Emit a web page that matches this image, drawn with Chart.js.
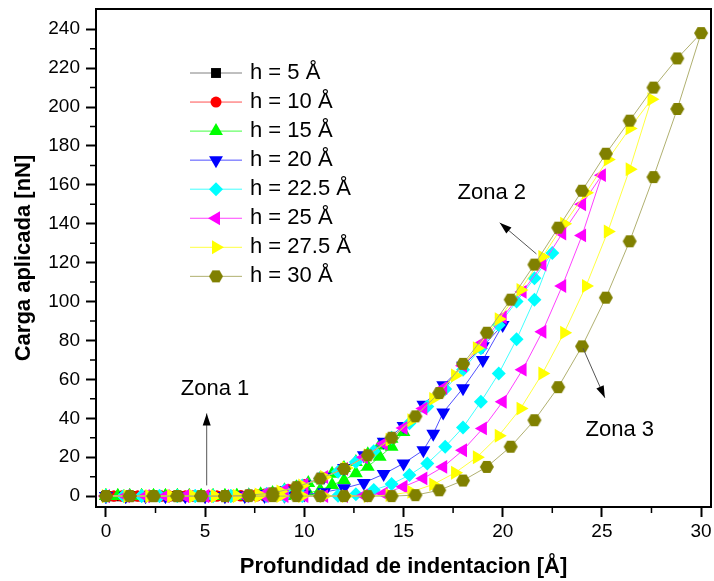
<!DOCTYPE html>
<html>
<head>
<meta charset="utf-8">
<script src="https://cdn.jsdelivr.net/npm/chart.js@4.4.1/dist/chart.umd.min.js"></script>
<style>
  html, body { margin: 0; padding: 0; background: #fff; }
  #wrap { width: 714px; height: 581px; }
</style>
</head>
<body>
<div id="wrap"><canvas id="indentChart"></canvas></div>
<script>
// indentation depth [Å] along the path (loading, then unloading) and applied load [nN]
const labels = ['h = 5 Å', 'h = 10 Å', 'h = 15 Å', 'h = 20 Å', 'h = 22.5 Å', 'h = 25 Å', 'h = 27.5 Å', 'h = 30 Å'];

const depth5 = [0,0.2,0.4,0.6,0.8,1,1.2,1.4,1.6,1.8,2,2.2,2.4,2.6,2.8,3,3.2,3.4,3.6,3.8,4,4.2,4.4,4.6,4.8,5,
  4.8,4.6,4.4,4.2,4,3.8,3.6,3.4,3.2,3,2.8,2.6,2.4,2.2,2,1.8,1.6,1.4,1.2,1,0.8,0.6,0.4,0.2,0];
const load5 = [0,0,0,0,0,0,0,0,0,0,0,0,0,0,0,0,0,0,0,0,0,0,0,0,0,0,
  0,0,0,0,0,0,0,0,0,0,0,0,0,0,0,0,0,0,0,0,0,0,0,0,0];

const depth10 = [0,0.4,0.8,1.2,1.6,2,2.4,2.8,3.2,3.6,4,4.4,4.8,5.2,5.6,6,6.4,6.8,7.2,7.6,8,8.4,8.8,9.2,9.6,10,
  9.6,9.2,8.8,8.4,8,7.6,7.2,6.8,6.4,6,5.6,5.2,4.8,4.4,4,3.6,3.2,2.8,2.4,2,1.6,1.2,0.8,0.4,0];
const load10 = [0,0,0,0,0,0,0,0,0,0,0,0,0,0,0,0,0.1,0.3,0.5,0.8,1.1,1.5,2.4,3.4,4.6,6,
  3,1.5,0.6,0.2,0,0,0,0,0,0,0,0,0,0,0,0,0,0,0,0,0,0,0,0,0];

const depth15 = [0,0.6,1.2,1.8,2.4,3,3.6,4.2,4.8,5.4,6,6.6,7.2,7.8,8.4,9,9.6,10.2,10.8,11.4,12,12.6,13.2,13.8,14.4,15,
  14.4,13.8,13.2,12.6,12,11.4,10.8,10.2,9.6,9,8.4,7.8,7.2,6.6,6,5.4,4.8,4.2,3.6,3,2.4,1.8,1.2,0.6,0];
const load15 = [0,0,0,0,0,0,0,0,0,0,0,0.2,0.5,1,1.6,3,4.6,6.7,9,11.5,14.5,17.5,21.5,26,29.5,33,
  25.4,20.2,15.1,11.7,8.2,5.7,3.1,1.6,0.6,0.1,0,0,0,0,0,0,0,0,0,0,0,0,0,0,0];

const depth20 = [0,1,2,3,4,5,6,7,8,9,10,11,12,13,14,15,16,17,18,19,20,
  19,18,17,16.5,16,15,14,13,12,11,10,9,8,7,6,5,4,3,2,1,0];
const load20 = [0,0,0,0,0,0,0,0.3,1.1,3,6,10,14.5,21,28,36,47,57,67,77,88,
  70,55.5,43,32,23.6,16.8,11.3,6.8,4,2,0.8,0.2,0,0,0,0,0,0,0,0,0];

const depth22 = [0,0.9,1.8,2.7,3.6,4.5,5.4,6.3,7.2,8.1,9,9.9,10.8,11.7,12.6,13.5,14.4,15.3,16.2,17.1,18,18.9,19.8,20.7,21.6,22.5,
  21.6,20.7,19.8,18.9,18,17.1,16.2,15.3,14.4,13.5,12.6,11.7,10.8,9.9,9,8.1,7.2,6.3,5.4,4.5,3.6,2.7,1.8,0.9,0];
const load22 = [0,0,0,0,0,0,0,0,0.5,1.2,3,5.5,9,12.5,17.5,23,30,37.5,46,55,65,76,88,100,112,125,
  101,80.6,63,48.5,35.3,25.4,16.8,10.8,6.2,3.1,1,0.2,0,0,0,0,0,0,0,0,0,0,0,0,0];

const depth25 = [0,1,2,3,4,5,6,7,8,9,10,11,12,13,14,15,16,17,18,19,20,21,22,23,24,25,
  24,23,22,21,20,19,18,17,16,15,14,13,12,11,10,9,8,7,6,5,4,3,2,1,0];
const load25 = [0,0,0,0,0,0,0,0.3,1.1,3,6,9.8,14,20,27,35,45,55.5,67,79,92,105,119,135,150,165,
  134,108,84.5,65,48.5,34.8,23.6,15,9.1,4.8,1.4,0.3,0,0,0,0,0,0,0,0,0,0,0,0,0];

const depth27 = [0,1.1,2.2,3.3,4.4,5.5,6.6,7.7,8.8,9.9,11,12.1,13.2,14.3,15.4,16.5,17.6,18.7,19.8,20.9,22,23.1,24.2,25.3,26.4,27.5,
  26.4,25.3,24.2,23.1,22,20.9,19.8,18.7,17.6,16.5,15.4,14.3,13.2,12.1,11,9.9,8.8,7.7,6.6,5.5,4.4,3.3,2.2,1.1,0];
const load27 = [0,0,0,0,0,0,0.2,0.9,2.4,5.5,9.8,14.5,21,29,39,50,62,76,91,106,123,140,156,173,189,204,
  168,136,108,84,63,45,31,20,12,6,2.2,0.5,0,0,0,0,0,0,0,0,0,0,0,0,0];

const depth30 = [0,1.2,2.4,3.6,4.8,6,7.2,8.4,9.6,10.8,12,13.2,14.4,15.6,16.8,18,19.2,20.4,21.6,22.8,24,25.2,26.4,27.6,28.8,30,
  28.8,27.6,26.4,25.2,24,22.8,21.6,20.4,19.2,18,16.8,15.6,14.4,13.2,12,10.8,9.6,8.4,7.2,6,4.8,3.6,2.4,1.2,0];
const load30 = [0,0,0,0,0,0,0.5,1.5,4.6,9,14,21,30,41,53,68,84,101,119,138,157,176,193,210,225,238,
  199,164,131,102,77,56,39,25.4,15,8,3,0.5,0,0,0,0,0,0,0,0,0,0,0,0,0];

const xTicks = [0, 5, 10, 15, 20, 25, 30];
const yTicks = [0, 20, 40, 60, 80, 100, 120, 140, 160, 180, 200, 220, 240];
const xMinor = [2.5, 7.5, 12.5, 17.5, 22.5, 27.5];
const yMinor = [10, 30, 50, 70, 90, 110, 130, 150, 170, 190, 210, 230];

const paths = [[depth5, load5], [depth10, load10], [depth15, load15], [depth20, load20],
  [depth22, load22], [depth25, load25], [depth27, load27], [depth30, load30]];

function hexagon(color, r) {
  const c = document.createElement('canvas');
  c.width = c.height = Math.ceil(r * 2) + 2;
  const g = c.getContext('2d');
  const m = c.width / 2;
  g.fillStyle = color;
  g.beginPath();
  for (let k = 0; k < 6; k++) {
    const a = Math.PI / 3 * k;
    g.lineTo(m + r * Math.cos(a), m + r * Math.sin(a));
  }
  g.closePath();
  g.fill();
  return c;
}

const styles = [
  { marker: '#000000', line: '#808080', shape: 'rect', rotation: 0, radius: 7 },
  { marker: '#ff0000', line: '#ff5050', shape: 'circle', rotation: 0, radius: 5.5 },
  { marker: '#00ff00', line: '#40ff40', shape: 'triangle', rotation: 0, radius: 8 },
  { marker: '#0000ff', line: '#5050ff', shape: 'triangle', rotation: 180, radius: 8 },
  { marker: '#00ffff', line: '#40ffff', shape: 'rectRot', rotation: 0, radius: 7 },
  { marker: '#ff00ff', line: '#ff40ff', shape: 'triangle', rotation: 270, radius: 8 },
  { marker: '#ffff00', line: '#ffff40', shape: 'triangle', rotation: 90, radius: 8 },
  { marker: '#808000', line: '#b0b070', shape: hexagon('#808000', 7), rotation: 0, radius: 7 }
];

const font = '"Liberation Sans", Arial, sans-serif';
Chart.defaults.font.family = font;
Chart.defaults.color = '#000';

const datasets = labels.map((label, i) => ({
  label,
  data: paths[i][0].map((x, k) => ({ x, y: paths[i][1][k] })),
  showLine: true,
  borderColor: styles[i].line,
  borderWidth: 1,
  pointStyle: styles[i].shape,
  pointRotation: styles[i].rotation,
  pointRadius: styles[i].radius,
  pointBackgroundColor: styles[i].marker,
  pointBorderColor: styles[i].marker,
  pointBorderWidth: 0,
  order: labels.length - i
}));

const zones = [
  { text: 'Zona 1', at: [5.5, 55], from: [5.08, 5.5], to: [5.08, 42.5] },
  { text: 'Zona 2', at: [19.45, 156], from: [21.7, 124.5], to: [19.85, 140.5] },
  { text: 'Zona 3', at: [25.9, 34], from: [24.05, 76], to: [25.15, 50.5] }
];

const framePlugin = {
  id: 'frame',
  afterDatasetsDraw(chart) {
    const { ctx, chartArea: a, scales: { x, y } } = chart;
    ctx.save();
    // zone labels and arrows
    ctx.font = '22px ' + font;
    ctx.textAlign = 'center';
    ctx.textBaseline = 'middle';
    zones.forEach(z => {
      ctx.fillStyle = '#000';
      ctx.fillText(z.text, x.getPixelForValue(z.at[0]), y.getPixelForValue(z.at[1]));
      const x0 = x.getPixelForValue(z.from[0]), y0 = y.getPixelForValue(z.from[1]);
      const x1 = x.getPixelForValue(z.to[0]), y1 = y.getPixelForValue(z.to[1]);
      const ang = Math.atan2(y1 - y0, x1 - x0);
      ctx.strokeStyle = '#555';
      ctx.lineWidth = 1;
      ctx.beginPath(); ctx.moveTo(x0, y0); ctx.lineTo(x1, y1); ctx.stroke();
      ctx.fillStyle = '#000';
      ctx.beginPath();
      ctx.moveTo(x1, y1);
      ctx.lineTo(x1 - 12 * Math.cos(ang) + 4 * Math.sin(ang), y1 - 12 * Math.sin(ang) - 4 * Math.cos(ang));
      ctx.lineTo(x1 - 12 * Math.cos(ang) - 4 * Math.sin(ang), y1 - 12 * Math.sin(ang) + 4 * Math.cos(ang));
      ctx.closePath();
      ctx.fill();
    });

    // legend inside the plot
    ctx.textAlign = 'left';
    labels.forEach((label, i) => {
      const ly = a.top + 64 + i * 29.05;
      const lx = a.left + 94;
      ctx.strokeStyle = styles[i].line;
      ctx.lineWidth = 1;
      ctx.beginPath(); ctx.moveTo(lx, ly); ctx.lineTo(lx + 52, ly); ctx.stroke();
      ctx.fillStyle = styles[i].marker;
      Chart.helpers.drawPoint(ctx, { pointStyle: styles[i].shape, rotation: styles[i].rotation,
        radius: styles[i].radius, borderWidth: 0 }, lx + 26, ly);
      ctx.fillStyle = '#000';
      ctx.fillText(label, lx + 60, ly);
    });

    // frame and minor ticks
    ctx.strokeStyle = '#000';
    ctx.lineWidth = 2;
    ctx.strokeRect(a.left, a.top, a.right - a.left, a.bottom - a.top);
    ctx.lineWidth = 1.5;
    ctx.beginPath();
    xMinor.forEach(v => { const px = x.getPixelForValue(v); ctx.moveTo(px, a.bottom); ctx.lineTo(px, a.bottom + 6); });
    yMinor.forEach(v => { const py = y.getPixelForValue(v); ctx.moveTo(a.left, py); ctx.lineTo(a.left - 6, py); });
    ctx.stroke();
    ctx.restore();
  }
};

new Chart(document.getElementById('indentChart'), {
  type: 'scatter',
  data: { datasets },
  options: {
    responsive: true,
    maintainAspectRatio: false,
    animation: false,
    layout: { autoPadding: false, padding: { top: 9, right: 3, left: 0, bottom: 0 } },
    plugins: { legend: { display: false }, tooltip: { enabled: false } },
    scales: {
      x: {
        type: 'linear',
        min: -0.5,
        max: 30.5,
        afterBuildTicks: s => { s.ticks = xTicks.map(v => ({ value: v })); },
        afterFit: s => { s.height = 74; s.paddingLeft = 0; s.paddingRight = 0; },
        ticks: { font: { size: 19 }, padding: 3, maxRotation: 0, autoSkip: false },
        grid: { drawOnChartArea: false, tickLength: 10, tickWidth: 2, tickColor: '#000' },
        border: { display: false },
        title: { display: true, text: 'Profundidad de indentacion [Å]', font: { size: 22, weight: 'bold' },
          padding: { top: 0, bottom: 1 } }
      },
      y: {
        min: -5.6,
        max: 250.4,
        afterBuildTicks: s => { s.ticks = yTicks.map(v => ({ value: v })); },
        afterFit: s => { s.width = 96; s.paddingTop = 0; s.paddingBottom = 0; },
        ticks: { font: { size: 19 }, padding: 6, autoSkip: false },
        grid: { drawOnChartArea: false, tickLength: 10, tickWidth: 2, tickColor: '#000' },
        border: { display: false },
        title: { display: true, text: 'Carga aplicada [nN]', font: { size: 22, weight: 'bold' },
          padding: { top: 11, bottom: 0 } }
      }
    }
  },
  plugins: [framePlugin]
});
</script>
</body>
</html>
